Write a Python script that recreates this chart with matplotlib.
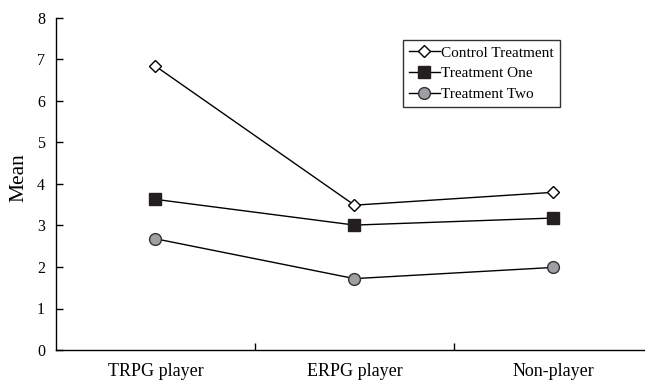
import matplotlib
matplotlib.use("Agg")
import matplotlib.pyplot as plt
import numpy as np

categories = ["TRPG player", "ERPG player", "Non-player"]
control = [6.84, 3.49, 3.80]
treat_one = [3.63, 3.01, 3.18]
treat_two = [2.68, 1.72, 1.99]
yticks = [0, 1, 2, 3, 4, 5, 6, 7, 8]

plt.rcParams['font.family'] = ['Liberation Serif', 'DejaVu Serif']

fig = plt.figure(figsize=(6.45, 3.81), dpi=100)
ax = fig.add_axes([56/645, 31/381, 589/645, 332/381])

x = np.arange(len(categories))
ax.plot(x, control, color='black', lw=1, marker='D', markersize=6.5,
        markerfacecolor='white', markeredgecolor='black', markeredgewidth=1,
        label='Control Treatment')
ax.plot(x, treat_one, color='black', lw=1, marker='s', markersize=8.5,
        markerfacecolor='#231f20', markeredgecolor='#231f20',
        label='Treatment One')
ax.plot(x, treat_two, color='black', lw=1, marker='o', markersize=8.5,
        markerfacecolor='#a0a0a4', markeredgecolor='#333333', markeredgewidth=1,
        label='Treatment Two')

ax.set_xlim(-0.5, 2.46)
ax.set_ylim(0, 8)
ax.set_yticks(yticks)
ax.set_yticklabels([str(v) for v in yticks], fontsize=11.5)
ax.tick_params(axis='y', direction='in', length=5, pad=8, width=1)

ax.set_xticks([0.5, 1.5])
ax.set_xticklabels(['', ''])
ax.set_xticks(x, minor=True)
ax.set_xticklabels(categories, minor=True, fontsize=13)
ax.tick_params(axis='x', which='major', direction='in', length=5, width=1)
ax.tick_params(axis='x', which='minor', length=0, pad=9)

ax.spines['top'].set_visible(False)
ax.spines['right'].set_visible(False)
for s in ['left', 'bottom']:
    ax.spines[s].set_linewidth(1)

ax.set_ylabel('Mean', fontsize=15.5)
ax.yaxis.set_label_coords(-28/589, (350-178)/332)

leg = ax.legend(loc='upper left', bbox_to_anchor=(347/589, (350-40)/332),
                fontsize=11, frameon=True, fancybox=False, edgecolor='black',
                handlelength=2.0, handletextpad=0.1, borderpad=0.4,
                labelspacing=0.45, borderaxespad=0)
leg.get_frame().set_linewidth(1)

fig.savefig('out.png', dpi=100)
